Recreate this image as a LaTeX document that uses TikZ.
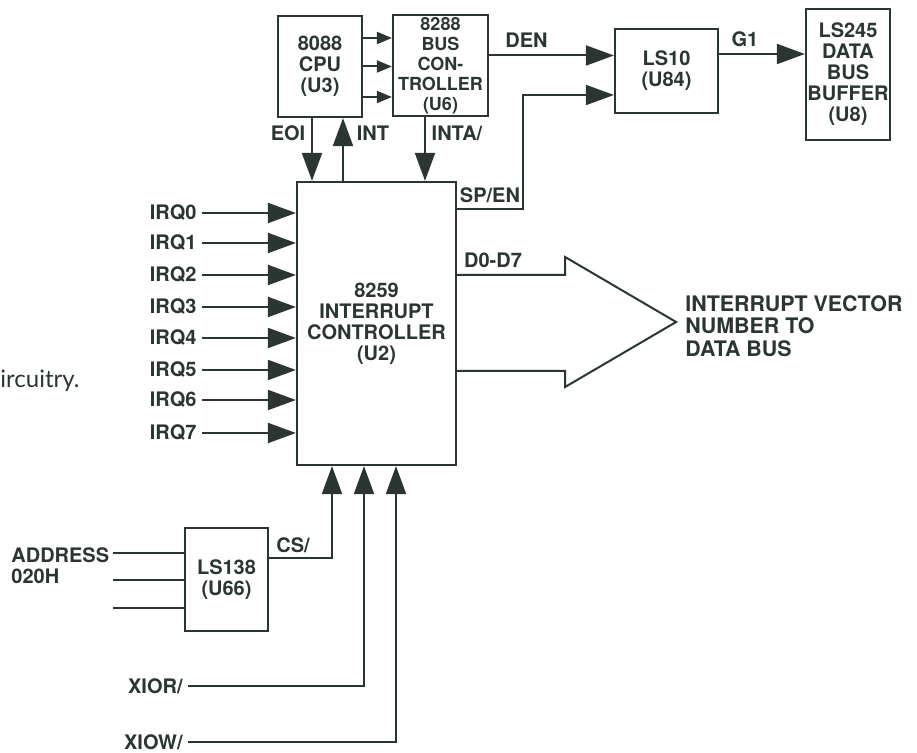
\documentclass[tikz,border=0pt]{standalone}
\usepackage{fontspec}
\setmainfont{TeX Gyre Heros}
\newfontfamily\bodyfont{Lato}
\usetikzlibrary{arrows.meta}
\definecolor{ink}{HTML}{2B3633}
\begin{document}
\begin{tikzpicture}[x=0.5pt,y=-0.5pt,
    every node/.style={font=\fontsize{10}{10.5}\selectfont\bfseries,text=ink},
    chip/.style={draw=ink,line width=1.1pt,align=center,inner sep=0.5pt},
    sig/.style={draw=ink,line width=1pt},
    arr/.style={sig,-{Triangle[length=14pt,width=10pt]}},
    arrs/.style={sig,-{Triangle[length=7.5pt,width=6pt]}},
    lbl/.style={anchor=east,inner sep=2.5pt}]
    \useasboundingbox(0,0)rectangle(917,753);
    \node[chip,minimum width=42pt,minimum height=50.5pt](u3)at(320,66.5){8088\\CPU\\(U3)};
    \node[chip,minimum width=47.5pt,minimum height=50.5pt,font=\fontsize{9}{10}\selectfont\bfseries](u6)at(440.5,65.5){8288\\BUS\\CON-\\TROLLER\\(U6)};
    \node[chip,minimum width=51.5pt,minimum height=42pt](u84)at(666.5,71){LS10\\(U84)};
    \node[chip,minimum width=42pt,minimum height=65.5pt](u8)at(848,74.5){LS245\\DATA\\BUS\\BUFFER\\(U8)};
    \node[chip,minimum width=79.5pt,minimum height=141.5pt](u2)at(376.5,323.5){8259\\INTERRUPT\\CONTROLLER\\(U2)};
    \node[chip,minimum width=41.5pt,minimum height=51.5pt](u66)at(226.5,579.5){LS138\\(U66)};
    \draw[arrs]([yshift=14.25pt]u3.east)--([yshift=14.25pt]u3.east-|u6.west);
    \draw[arrs](u3.east)--(u3.east-|u6.west);
    \draw[arrs]([yshift=-15.25pt]u3.east)--([yshift=-15.25pt]u3.east-|u6.west);
    \draw[arr]([xshift=-4pt]u3.south)--([xshift=-4pt]u3.south|-u2.north);
    \draw[arr]([xshift=11.5pt]u3.south|-u2.north)--([xshift=11.5pt]u3.south);
    \draw[arr]([xshift=-7.75pt]u6.south)--([xshift=-7.75pt]u6.south|-u2.north);
    \node(eoi)at(288,133){EOI};
    \node(int)at(373,133){INT};
    \node(inta)at(457,133){INTA/};
    \draw[arr]([yshift=5pt]u6.east)--([yshift=5pt]u6.east-|u84.west)node[above,pos=0.3]{DEN};
    \draw[arr]([yshift=57.25pt]u2.east)-|([xshift=-45.5pt,yshift=-12pt]u84.west)--([yshift=-12pt]u84.west);
    \node(spen)at(490,195){SP/EN};
    \draw[arr]([yshift=8.5pt]u84.east)--([yshift=8.5pt]u84.east-|u8.west)node[above,pos=0.3]{G1};
    \draw[sig]([yshift=24.25pt]u2.east)--++(108,0)--++(0,-18)--++(111,65)--++(-111,65)--++(0,-16)--([yshift=-23.75pt]u2.east);
    \node(data)at(493,260){D0-D7};
    \node[anchor=west,align=left,inner sep=0pt,font=\fontsize{10.7}{11.3}\selectfont\bfseries](vec)at(685,326){INTERRUPT VECTOR\\NUMBER TO\\DATA BUS};
    \node[lbl](irq0)at(202,213){IRQ0};
    \node[lbl](irq1)at(202,243){IRQ1};
    \node[lbl](irq2)at(202,275){IRQ2};
    \node[lbl](irq3)at(202,307){IRQ3};
    \node[lbl](irq4)at(202,338){IRQ4};
    \node[lbl](irq5)at(202,370){IRQ5};
    \node[lbl](irq6)at(202,400){IRQ6};
    \node[lbl](irq7)at(202,433){IRQ7};
    \draw[arr](irq0.east)--(irq0.east-|u2.west);
    \draw[arr](irq1.east)--(irq1.east-|u2.west);
    \draw[arr](irq2.east)--(irq2.east-|u2.west);
    \draw[arr](irq3.east)--(irq3.east-|u2.west);
    \draw[arr](irq4.east)--(irq4.east-|u2.west);
    \draw[arr](irq5.east)--(irq5.east-|u2.west);
    \draw[arr](irq6.east)--(irq6.east-|u2.west);
    \draw[arr](irq7.east)--(irq7.east-|u2.west);
    \node[anchor=west,align=left,inner sep=1pt](adr)at(9,566){ADDRESS\\020H};
    \coordinate(a1)at(113,553);
    \coordinate(a2)at(113,580);
    \coordinate(a3)at(113,608);
    \draw[sig](a1)--(a1-|u66.west);
    \draw[sig](a2)--(a2-|u66.west);
    \draw[sig](a3)--(a3-|u66.west);
    \draw[arr]([yshift=10.75pt]u66.east)-|([xshift=-22.25pt]u2.south);
    \node(cs)at(293,545){CS/};
    \node[lbl](xior)at(188,686){XIOR/};
    \node[lbl](xiow)at(188,742){XIOW/};
    \draw[arr](xior.east)-|([xshift=-6.25pt]u2.south);
    \draw[arr](xiow.east)-|([xshift=9.75pt]u2.south);
    \node[anchor=west,inner sep=0pt,font=\fontsize{12}{12}\selectfont\bodyfont](txt)at(0,381){ircuitry.};
\end{tikzpicture}
\end{document}
